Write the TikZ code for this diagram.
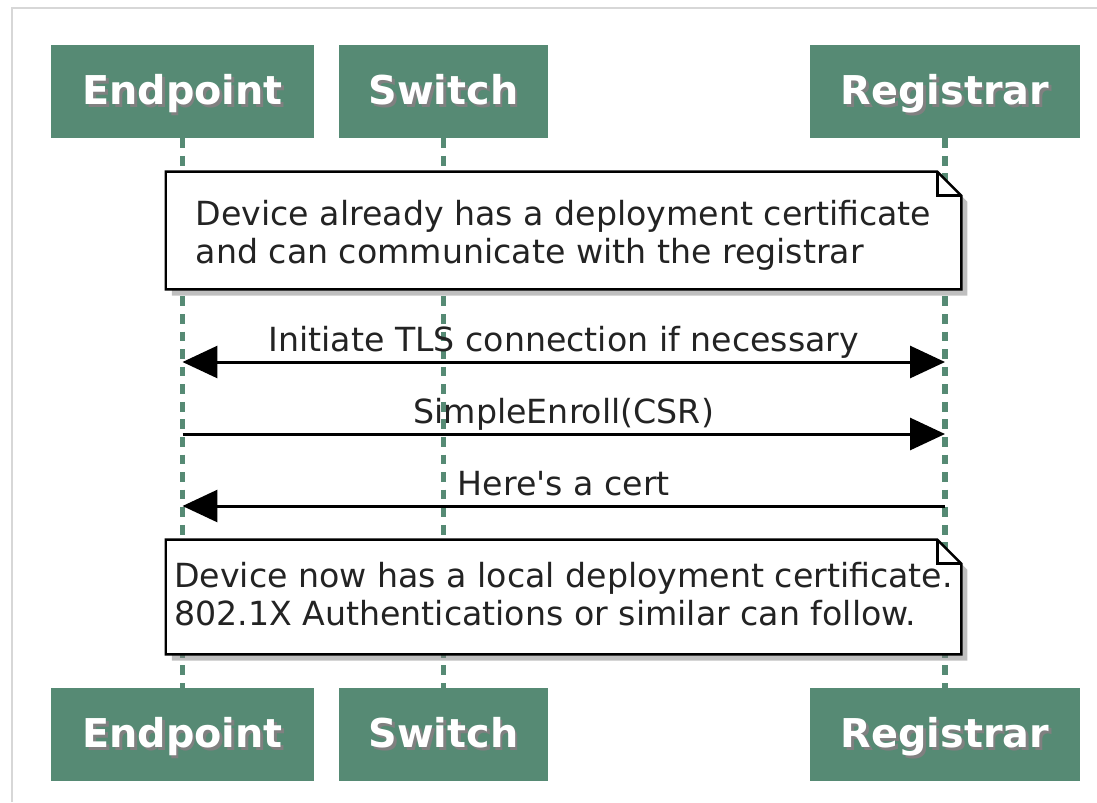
\documentclass[tikz,border=0pt]{standalone}
\usepackage{fontspec}
\setmainfont{DejaVu Sans}[Ligatures=TeXOff]
\usetikzlibrary{arrows.meta,shadows}

\definecolor{actorgreen}{RGB}{86,138,116}
\definecolor{textgray}{RGB}{35,35,35}
\definecolor{framegray}{RGB}{215,215,215}

\pgfdeclarelayer{back}
\pgfdeclarelayer{mid}
\pgfsetlayers{back,mid,main}

% white actor name with a soft dark copy behind it
\newcommand{\actorlabel}[1]{\makebox[0pt][l]{\hspace{1.6pt}\raisebox{-1.6pt}{\color{black!50}#1}}#1}

\tikzset{
    actor/.style={fill=actorgreen, text=white, inner sep=0pt, minimum height=1.86cm,
        text height=16.5pt, text depth=1.6pt,
        font=\bfseries\fontsize{22.6}{25}\selectfont},
    lifeline/.style={draw=actorgreen, line width=2.9pt, dash pattern=on 5.5pt off 4.5pt},
    notetext/.style={align=left, inner sep=0pt, text=textgray, minimum width=15.9cm,
        font=\fontsize{18.9}{21.5}\selectfont},
    notebox/.style={draw=black, line width=1.4pt, fill=white,
        drop shadow={shadow xshift=3.5pt, shadow yshift=-3.5pt, opacity=0.5}},
    notefold/.style={draw=black, line width=1.4pt},
    msg/.style={draw=black, line width=1.7pt},
    msglabel/.style={anchor=base, inner sep=0pt, text=textgray,
        font=\fontsize{18.9}{21.5}\selectfont}
}

\begin{document}
\begin{tikzpicture}[x=0.02cm, y=-0.02cm,
    >={Triangle[length=0.7cm, width=0.64cm]}]
    \useasboundingbox (0, 0) rectangle (1097, 802);
    \draw[framegray, line width=0.6pt] (12, 802) -- (12, 8) -- (1097, 8);

    % participants
    \node[actor, minimum width=5.26cm] (endpoint1) at (182.5, 91.5) {\actorlabel{Endpoint}};
    \node[actor, minimum width=4.18cm] (switch1) at (443.5, 91.5) {\actorlabel{Switch}};
    \node[actor, minimum width=5.40cm] (registrar1) at (945, 91.5) {\actorlabel{Registrar}};
    \node[actor, minimum width=5.26cm] (endpoint2) at (182.5, 734.5) {\actorlabel{Endpoint}};
    \node[actor, minimum width=4.18cm] (switch2) at (443.5, 734.5) {\actorlabel{Switch}};
    \node[actor, minimum width=5.40cm] (registrar2) at (945, 734.5) {\actorlabel{Registrar}};

    \begin{pgfonlayer}{back}
        \draw[lifeline] (endpoint1) -- (endpoint2);
        \draw[lifeline] (switch1) -- (switch2);
        \draw[lifeline] (registrar1) -- (registrar2);
    \end{pgfonlayer}

    % notes
    \node[notetext, minimum height=2.34cm] (note1) at (563.5, 235.5)
        {Device already has a deployment certificate\\and can communicate with the registrar};
    \node[notetext, minimum height=2.28cm] (note2) at (563.5, 594)
        {Device now has a local deployment certificate.\\802.1X Authentications or similar can follow.};
    \begin{pgfonlayer}{mid}
        \foreach \n/\dy in {note1/0.1cm, note2/-0.06cm} {
            \path[notebox] ([yshift=\dy]\n.north west) -- ([xshift=-0.48cm, yshift=\dy]\n.north east)
                -- ([yshift=\dy-0.48cm]\n.north east) -- ([yshift=\dy]\n.south east)
                -- ([yshift=\dy]\n.south west) -- cycle;
            \draw[notefold] ([xshift=-0.48cm, yshift=\dy]\n.north east)
                |- ([yshift=\dy-0.48cm]\n.north east);
        }
    \end{pgfonlayer}

    % messages
    \coordinate (e1) at (endpoint1.south |- 0, 362);
    \coordinate (r1) at (registrar1.south |- 0, 362);
    \coordinate (e2) at (endpoint1.south |- 0, 434);
    \coordinate (r2) at (registrar1.south |- 0, 434);
    \coordinate (e3) at (endpoint1.south |- 0, 506);
    \coordinate (r3) at (registrar1.south |- 0, 506);

    \draw[msg, <->] (e1) -- (r1) node[msglabel, midway, yshift=0.22cm] {Initiate TLS connection if necessary};
    \draw[msg, ->] (e2) -- (r2) node[msglabel, midway, yshift=0.22cm] {SimpleEnroll(CSR)};
    \draw[msg, ->] (r3) -- (e3) node[msglabel, midway, yshift=0.22cm] {Here's a cert};
\end{tikzpicture}
\end{document}
